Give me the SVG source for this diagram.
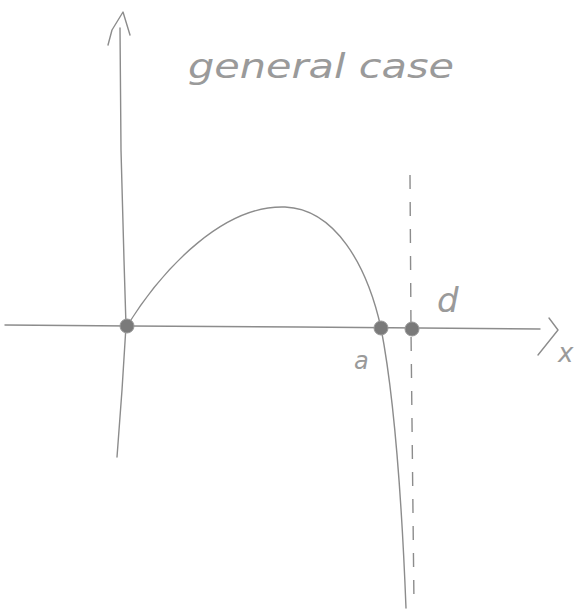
<svg xmlns="http://www.w3.org/2000/svg" width="579" height="615" viewBox="0 0 579 615">
<style>
.ln{fill:none;stroke:#8c8c8c;stroke-width:1.4;stroke-linecap:round;stroke-linejoin:round}
.dash{fill:none;stroke:#8c8c8c;stroke-width:1.4;stroke-dasharray:14 13}
.dot{fill:#7a7a7a;stroke:#999;stroke-width:1}
.hw{font-family:"DejaVu Sans",sans-serif;font-style:italic;font-weight:300;fill:#9a9a9a}
</style>
<rect width="579" height="615" fill="#ffffff"/>
<g id="connectors">
<path id="y-axis" class="ln" d="M120,28 L121,150 L124,260 L126,326 L122,390 L117,457"/>
<path id="y-arrow" class="ln" d="M108,45 L112,30 L123,12 L130,35"/>
<path id="x-axis" class="ln" d="M5,325 L130,326 L300,327 L540,329"/>
<path id="x-arrow" class="ln" d="M549,318 L558,330 L538,355"/>
<path id="curve" class="ln" d="M127,326 C165,265 225,205 285,207 C335,209 367,265 381,328 C392,385 401,480 406,608"/>
<path id="asymptote" class="dash" d="M410,175 L411,330 L414,605"/>
</g>
<g id="title"><text class="hw" x="188" y="78" font-size="33" textLength="266" lengthAdjust="spacingAndGlyphs">general case</text></g>
<g id="origin"><circle class="dot" cx="127" cy="326" r="7"/></g>
<g id="point-a"><circle class="dot" cx="381" cy="328" r="7"/><text class="hw" x="354" y="369" font-size="24">a</text></g>
<g id="point-d"><circle class="dot" cx="412" cy="329" r="7"/><text class="hw" x="437" y="312" font-size="34">d</text></g>
<g id="label-x"><text class="hw" x="558" y="362" font-size="26">x</text></g>
</svg>
